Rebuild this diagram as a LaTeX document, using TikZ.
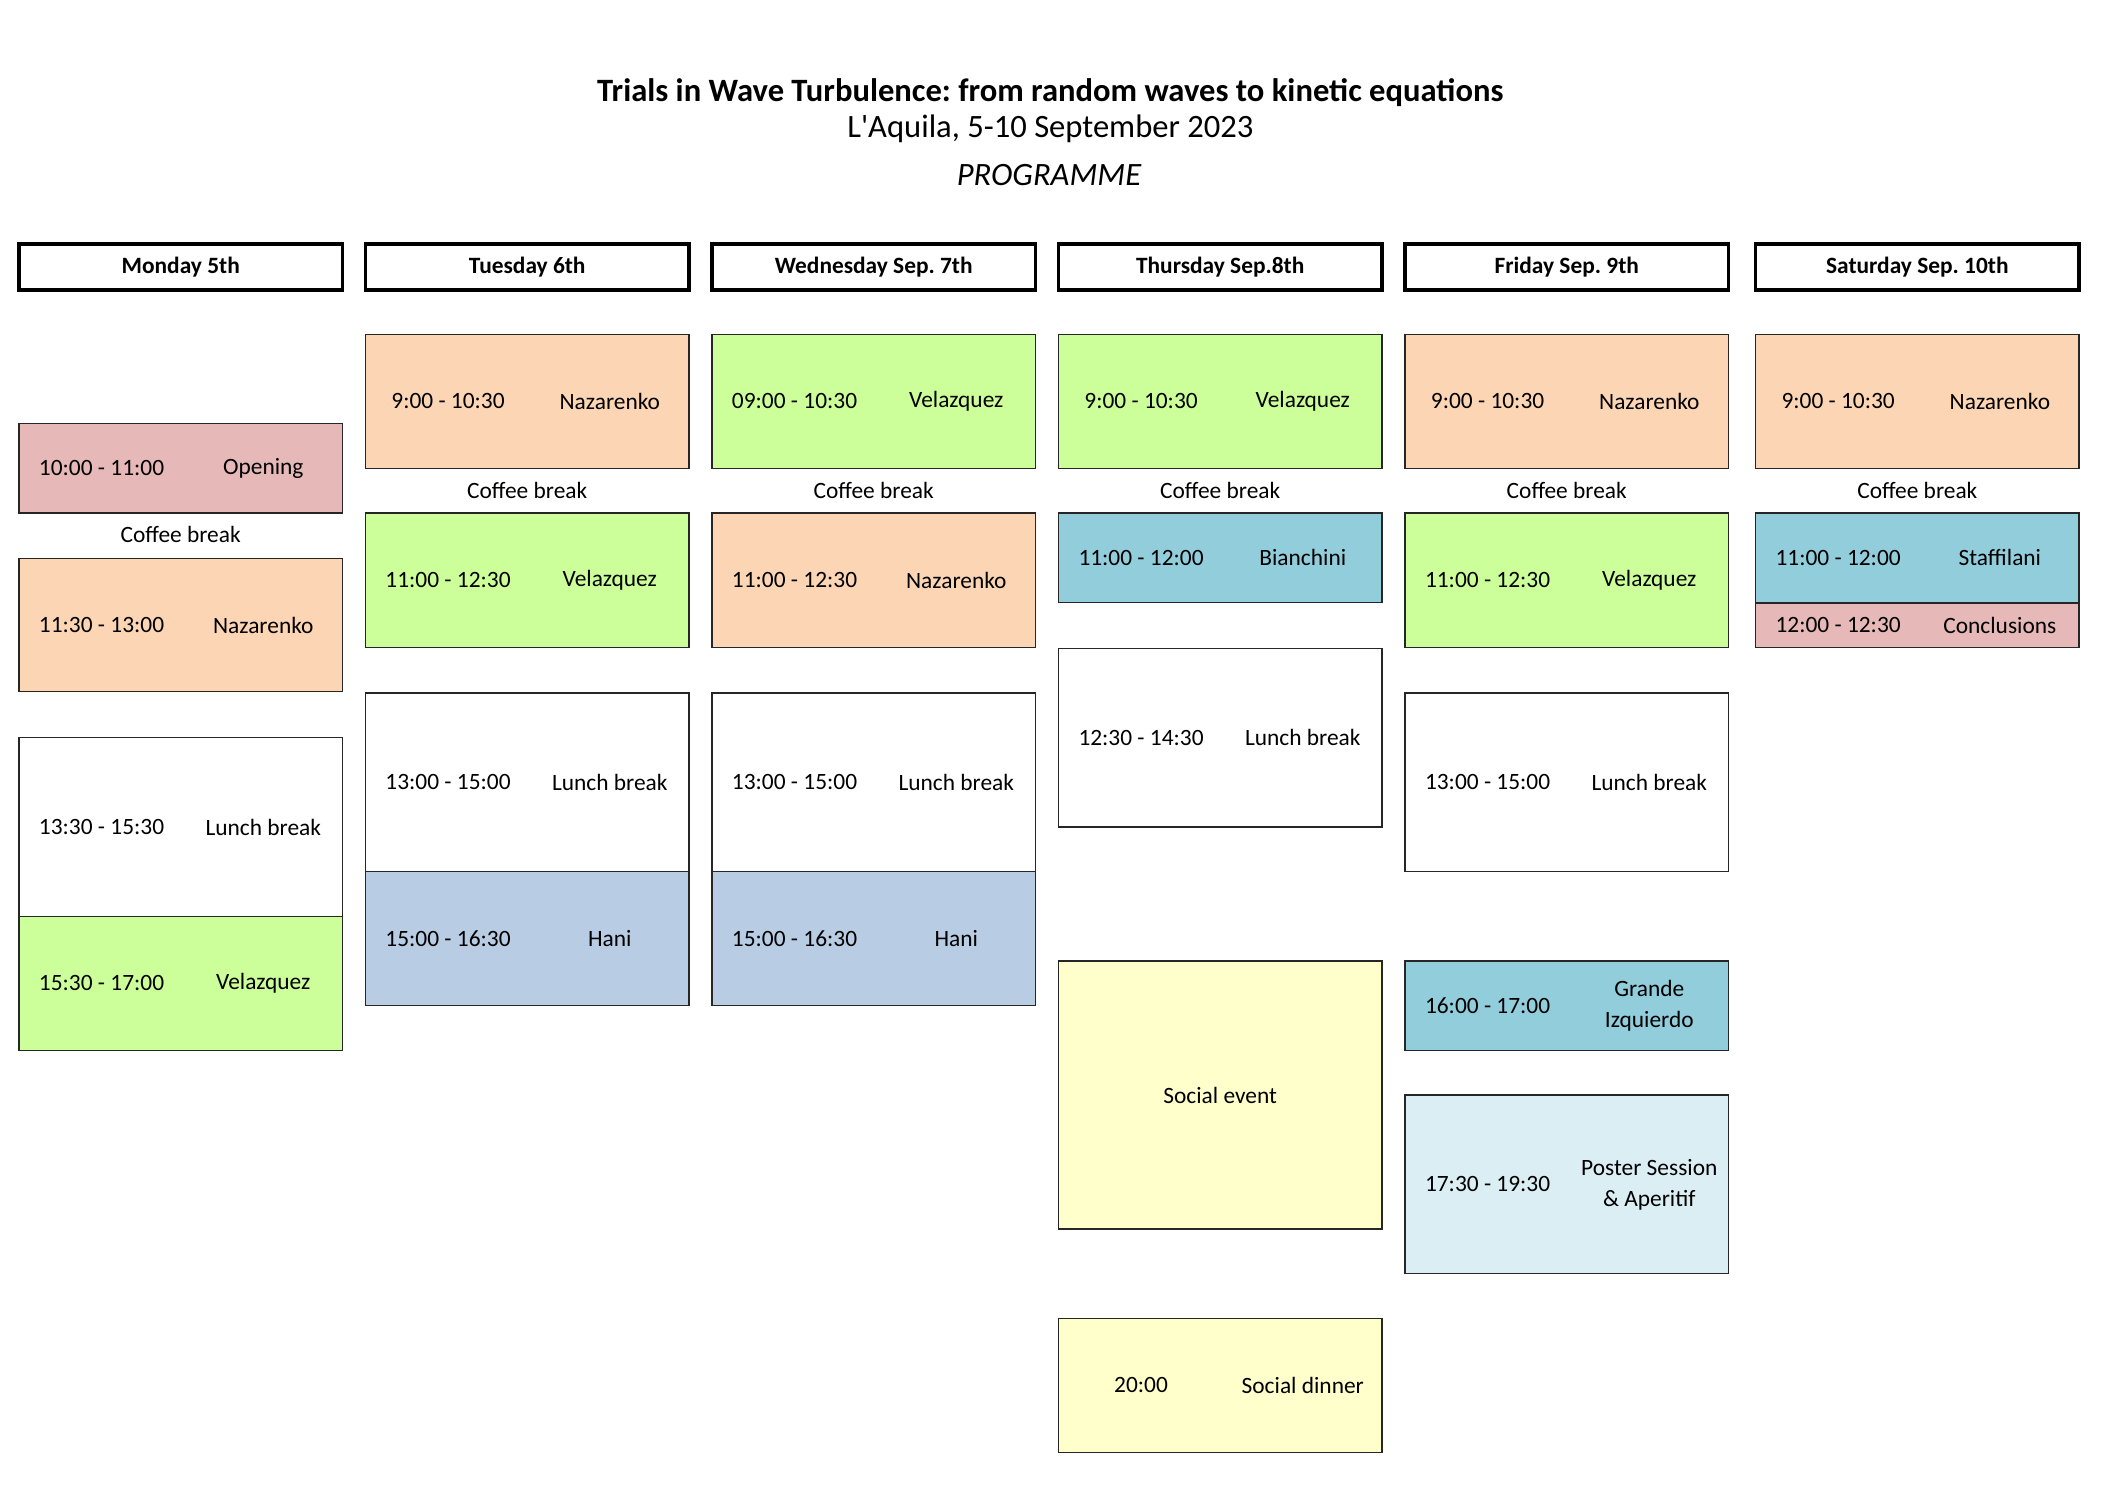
\documentclass[tikz,border=0pt]{standalone}
\usepackage{fontspec}
\setmainfont{Carlito}
\newfontfamily\rawcal{Carlito}
\frenchspacing
\definecolor{peach}{HTML}{FCD5B4}
\definecolor{lgreen}{HTML}{CCFF99}
\definecolor{pinkc}{HTML}{E6B8B7}
\definecolor{blueg}{HTML}{B8CCE4}
\definecolor{teal}{HTML}{92CDDC}
\definecolor{lblue}{HTML}{DAEEF3}
\definecolor{lyellow}{HTML}{FFFFCC}
\tikzset{
  slot/.style={draw=black!85, line width=0.8pt, inner sep=0pt, outer sep=0pt, minimum width=161.8pt},
  dayhead/.style={draw=black, line width=1.9pt, inner sep=0pt, outer sep=0pt, minimum width=161.8pt, minimum height=23pt, font=\fontsize{11.7pt}{14pt}\selectfont\bfseries},
  txt/.style={inner sep=0pt, font=\fontsize{11.7pt}{15.5pt}\selectfont, align=center},
  titletxt/.style={inner sep=0pt, font=\fontsize{16.3pt}{19pt}\selectfont\rawcal},
}
\newcommand{\slotbox}[7]{%
  \pgfmathsetmacro{\cx}{#2+119.5}%
  \pgfmathsetmacro{\cy}{(#3+#4)/2}%
  \pgfmathsetmacro{\hh}{(#4-#3)*0.677}%
  \node[slot, fill=#5, minimum height=\hh pt] (#1) at (\cx,\cy) {};
  \node[txt] (#1-t) at ([xshift=41.3pt]#1.west) {#6};
  \node[txt] (#1-s) at ([xshift=122.2pt]#1.west) {#7};
}
\newcommand{\coffee}[3]{%
  \node[txt] (#1) at (#2+119.5,#3) {Coffee break};
}
\begin{document}
\begin{tikzpicture}[x=0.677pt, y=-0.677pt]
\useasboundingbox (0,0) rectangle (1567,1101.6);
% titles
\node[titletxt] (title) at (776,68.5) {\bfseries Trials in Wave Turbulence: from random waves to kinetic equations};
\node[titletxt] (sub) at (776,95.5) {L'Aquila, 5-10 September 2023};
\node[titletxt] (prog) at (775,129.5) {\itshape PROGRAMME};
% headers
\node[dayhead] (hmon) at (133.5,197) {Monday 5th};
\node[dayhead] (htue) at (389.5,197) {Tuesday 6th};
\node[dayhead] (hwed) at (645.5,197) {Wednesday Sep. 7th};
\node[dayhead] (hthu) at (901.5,197) {Thursday Sep.8th};
\node[dayhead] (hfri) at (1157.5,197) {Friday Sep. 9th};
\node[dayhead] (hsat) at (1416.5,197) {Saturday Sep. 10th};
% Monday
\slotbox{mon1}{14}{313}{379}{pinkc}{10:00 - 11:00}{Opening}
\coffee{moncb}{14}{395}
\slotbox{mon2}{14}{412.5}{511}{peach}{11:30 - 13:00}{Nazarenko}
\slotbox{mon3}{14}{545}{677}{white}{13:30 - 15:30}{Lunch break}
\slotbox{mon4}{14}{677}{776}{lgreen}{15:30 - 17:00}{Velazquez}
% Tuesday
\slotbox{tue1}{270}{247}{346}{peach}{9:00 - 10:30}{Nazarenko}
\coffee{tuecb}{270}{362}
\slotbox{tue2}{270}{379}{478.5}{lgreen}{11:00 - 12:30}{Velazquez}
\slotbox{tue3}{270}{512}{644}{white}{13:00 - 15:00}{Lunch break}
\slotbox{tue4}{270}{644}{743}{blueg}{15:00 - 16:30}{Hani}
% Wednesday
\slotbox{wed1}{526}{247}{346}{lgreen}{09:00 - 10:30}{Velazquez}
\coffee{wedcb}{526}{362}
\slotbox{wed2}{526}{379}{478.5}{peach}{11:00 - 12:30}{Nazarenko}
\slotbox{wed3}{526}{512}{644}{white}{13:00 - 15:00}{Lunch break}
\slotbox{wed4}{526}{644}{743}{blueg}{15:00 - 16:30}{Hani}
% Thursday
\slotbox{thu1}{782}{247}{346}{lgreen}{9:00 - 10:30}{Velazquez}
\coffee{thucb}{782}{362}
\slotbox{thu2}{782}{379}{445}{teal}{11:00 - 12:00}{Bianchini}
\slotbox{thu3}{782}{479}{611}{white}{12:30 - 14:30}{Lunch break}
\node[slot, fill=lyellow, minimum height=134pt] (thu4) at (901.5,809) {};
\node[txt] (thu4-t) at (thu4.center) {Social event};
\slotbox{thu5}{782}{974}{1073}{lyellow}{20:00}{Social dinner}
% Friday
\slotbox{fri1}{1038}{247}{346}{peach}{9:00 - 10:30}{Nazarenko}
\coffee{fricb}{1038}{362}
\slotbox{fri2}{1038}{379}{478.5}{lgreen}{11:00 - 12:30}{Velazquez}
\slotbox{fri3}{1038}{512}{644}{white}{13:00 - 15:00}{Lunch break}
\slotbox{fri4}{1038}{710}{776}{teal}{16:00 - 17:00}{Grande\\Izquierdo}
\slotbox{fri5}{1038}{809}{941}{lblue}{17:30 - 19:30}{Poster Session\\\& Aperitif}
% Saturday
\slotbox{sat1}{1297}{247}{346}{peach}{9:00 - 10:30}{Nazarenko}
\coffee{satcb}{1297}{362}
\slotbox{sat2}{1297}{379}{445.3}{teal}{11:00 - 12:00}{Staffilani}
\slotbox{sat3}{1297}{445.3}{478.5}{pinkc}{12:00 - 12:30}{Conclusions}
\end{tikzpicture}
\end{document}
